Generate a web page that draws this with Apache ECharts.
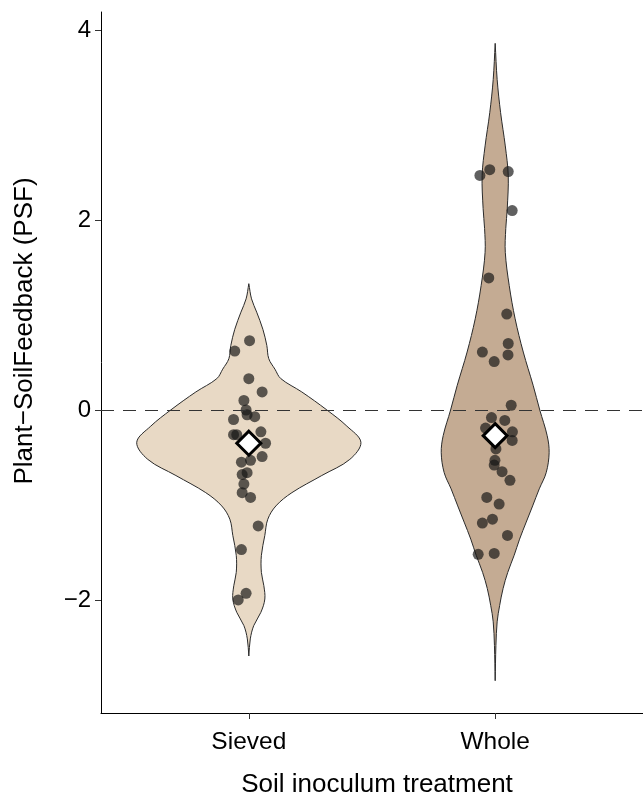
<!DOCTYPE html>
<html>
<head>
<meta charset="utf-8">
<script src="https://cdn.jsdelivr.net/npm/echarts@6/dist/echarts.min.js"></script>
<style>
  html, body { margin: 0; padding: 0; background: #fff; }
  #chart { width: 643px; height: 799px; }
</style>
</head>
<body>
<div id="chart"></div>
<script>
// categories and their positions on the x scale
const categories = ['Sieved', 'Whole'];
const catPos = [1, 2];

// violin outlines: y level and half width (x units)
const sievedProfileY = [1.33, 1.17, 1.03, 0.85, 0.68, 0.54, 0.43, 0.33, 0.19, 0.0, -0.17, -0.34, -0.52, -0.69, -0.87, -1.01, -1.15, -1.32, -1.53, -1.71, -1.85, -1.99, -2.13, -2.27, -2.41, -2.59];
const sievedProfileW = [0, 0.011, 0.032, 0.057, 0.073, 0.081, 0.106, 0.130, 0.215, 0.317, 0.398, 0.455, 0.410, 0.296, 0.175, 0.110, 0.077, 0.065, 0.051, 0.051, 0.061, 0.065, 0.049, 0.020, 0.006, 0];
const wholeProfileY = [3.86, 3.48, 3.13, 2.78, 2.47, 2.12, 1.91, 1.66, 1.31, 0.96, 0.61, 0.26, 0.0, -0.27, -0.45, -0.66, -0.83, -1.01, -1.18, -1.36, -1.53, -1.71, -1.88, -2.06, -2.23, -2.48, -2.85];
const wholeProfileW = [0, 0.008, 0.022, 0.041, 0.053, 0.049, 0.043, 0.041, 0.057, 0.081, 0.114, 0.154, 0.181, 0.211, 0.219, 0.207, 0.179, 0.152, 0.126, 0.099, 0.077, 0.051, 0.032, 0.018, 0.008, 0.003, 0];

// raw PSF values and their horizontal jitter
const sievedValues = [0.73, 0.62, 0.33, 0.19, 0.10, 0.00, -0.05, -0.07, -0.10, -0.26, -0.26, -0.23, -0.35, -0.49, -0.53, -0.55, -0.66, -0.68, -0.78, -0.87, -0.92, -1.22, -1.47, -1.93, -2.00];
const sievedJitter = [0.003, -0.057, 0, 0.054, -0.02, -0.011, -0.007, 0.024, -0.062, -0.062, -0.049, 0.049, 0.068, 0.054, 0.007, -0.03, -0.007, -0.027, -0.02, -0.027, 0.007, 0.038, -0.03, -0.011, -0.043];
const wholeValues = [2.47, 2.53, 2.51, 2.10, 1.39, 1.01, 0.70, 0.61, 0.58, 0.51, 0.05, -0.08, -0.11, -0.19, -0.23, -0.32, -0.41, -0.53, -0.58, -0.65, -0.74, -0.92, -0.99, -1.15, -1.19, -1.32, -1.52, -1.51];
const wholeJitter = [-0.062, -0.022, 0.053, 0.069, -0.026, 0.047, 0.053, -0.052, 0.052, -0.004, 0.065, -0.015, 0.039, -0.039, 0.07, 0.069, 0.003, -0.001, -0.004, 0.028, 0.06, -0.034, 0.016, -0.011, -0.052, 0.05, -0.069, -0.004];

// group means
const means = [-0.35, -0.27];

const yTicks = [-2, 0, 2, 4];
const fills = ['#e8d9c5', '#c4ab93'];

const profiles = [
  { ys: sievedProfileY, ws: sievedProfileW },
  { ys: wholeProfileY, ws: wholeProfileW }
];

const chart = echarts.init(document.getElementById('chart'), null, { renderer: 'canvas' });

function violinItem(params, api) {
  const g = api.value(0);
  const prof = profiles[g];
  const cx = catPos[g];
  const right = prof.ys.map((y, i) => api.coord([cx + prof.ws[i], y]));
  const left = prof.ys.map((y, i) => api.coord([cx - prof.ws[i], y])).reverse();
  return {
    type: 'polygon',
    shape: { points: right.concat(left), smooth: 0.35 },
    style: { fill: fills[g], stroke: '#2a2a2a', lineWidth: 1 }
  };
}

const pts = [];
sievedValues.forEach((v, i) => pts.push([catPos[0] + sievedJitter[i], v]));
wholeValues.forEach((v, i) => pts.push([catPos[1] + wholeJitter[i], v]));

const fontFam = 'Liberation Sans, Arial, sans-serif';

chart.setOption({
  animation: false,
  grid: { left: 101, right: 0, top: 12, bottom: 86, containLabel: false, outerBoundsMode: 'none' },
  graphic: [
    {
      type: 'text',
      x: 25, y: 331, rotation: Math.PI / 2,
      style: {
        text: 'Plant\u2212SoilFeedback (PSF)',
        font: '26px ' + fontFam, fill: '#000',
        align: 'center', verticalAlign: 'middle'
      }
    },
    {
      type: 'text',
      x: 377, y: 785,
      style: {
        text: 'Soil inoculum treatment',
        font: '26px ' + fontFam, fill: '#000',
        align: 'center', verticalAlign: 'middle'
      }
    }
  ],
  xAxis: {
    type: 'value',
    min: 0.4,
    max: 2.6,
    splitLine: { show: false },
    axisLine: { onZero: false, lineStyle: { color: '#000', width: 1 } },
    axisTick: { show: true, length: 6, customValues: catPos, lineStyle: { color: '#333' } },
    axisLabel: {
      customValues: catPos,
      margin: 17,
      fontFamily: fontFam, fontSize: 24.5, color: '#000',
      formatter: v => categories[catPos.indexOf(Math.round(v))] || ''
    }
  },
  yAxis: {
    type: 'value',
    min: -3.19,
    max: 4.19,
    splitLine: { show: false },
    axisLine: { show: true, onZero: false, lineStyle: { color: '#000', width: 1 } },
    axisTick: { show: true, length: 6, customValues: yTicks, lineStyle: { color: '#333' } },
    axisLabel: {
      customValues: yTicks,
      margin: 10,
      fontFamily: fontFam, fontSize: 24, color: '#000',
      formatter: v => String(v).replace('-', '\u2212')
    }
  },
  series: [
    {
      type: 'custom',
      renderItem: violinItem,
      data: [[0], [1]],
      encode: { x: -1, y: -1 },
      clip: false,
      z: 1,
      markLine: {
        silent: true,
        symbol: 'none',
        label: { show: false },
        lineStyle: { color: '#333', width: 1, type: [13, 9] },
        data: [{ yAxis: 0 }]
      }
    },
    {
      type: 'scatter',
      data: pts,
      symbolSize: 11,
      itemStyle: { color: 'rgba(20,20,20,0.68)', opacity: 1 },
      z: 3
    },
    {
      type: 'scatter',
      data: catPos.map((c, i) => [c, means[i]]),
      symbol: 'diamond',
      symbolSize: [24, 24],
      itemStyle: { color: '#fff', borderColor: '#000', borderWidth: 3, opacity: 1 },
      z: 4
    }
  ]
});
</script>
</body>
</html>
